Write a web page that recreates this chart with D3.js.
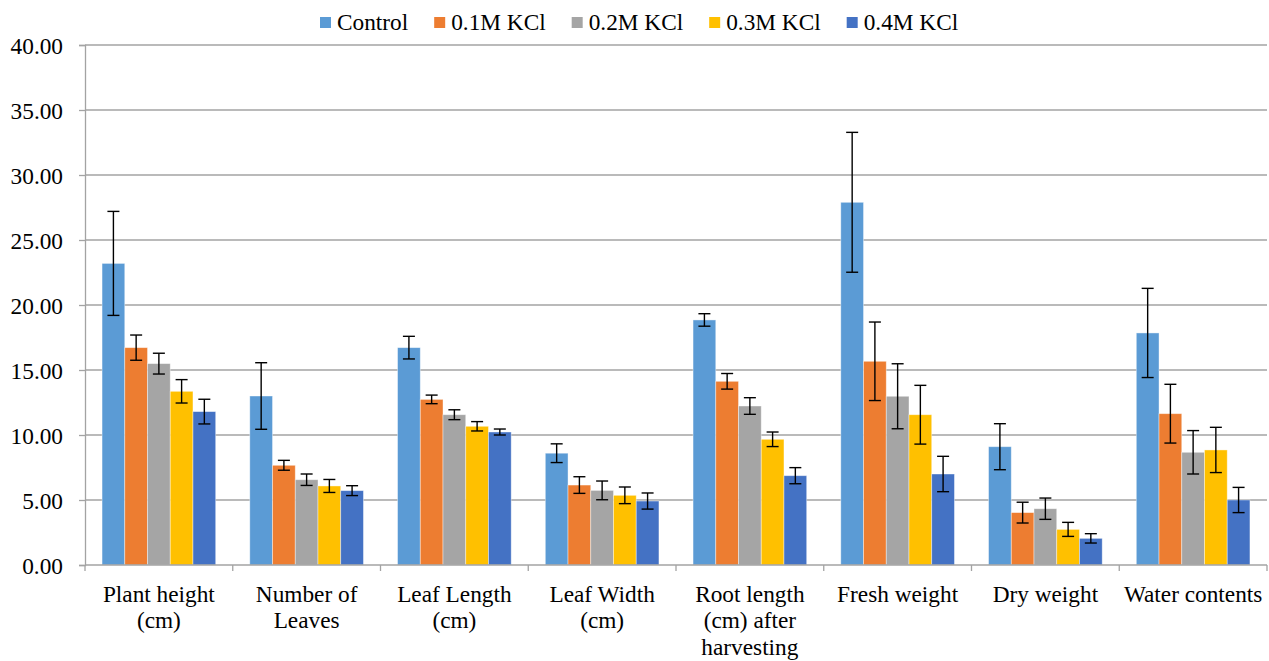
<!DOCTYPE html>
<html><head><meta charset="utf-8">
<script src="https://cdn.jsdelivr.net/npm/d3@7"></script>
<style>body{margin:0;background:#fff;} svg{display:block;} svg text{font-family:"Liberation Serif","Times New Roman",serif !important;}</style>
</head><body>
<svg id="chart" width="1269" height="661"></svg>
<script>
const categories = ["Plant height (cm)", "Number of Leaves", "Leaf Length (cm)", "Leaf Width (cm)",
  "Root length (cm) after harvesting", "Fresh weight", "Dry weight", "Water contents"];
const categoryLines = [["Plant height","(cm)"],["Number of","Leaves"],["Leaf Length","(cm)"],["Leaf Width","(cm)"],
  ["Root length","(cm) after","harvesting"],["Fresh weight"],["Dry weight"],["Water contents"]];
const seriesNames = ["Control", "0.1M KCl", "0.2M KCl", "0.3M KCl", "0.4M KCl"];
const seriesColors = ["#5B9BD5", "#ED7D31", "#A5A5A5", "#FFC000", "#4472C4"];
const control = [23.2, 13.0, 16.72, 8.6, 18.85, 27.9, 9.1, 17.85];
const kcl01 = [16.72, 7.67, 12.74, 6.15, 14.13, 15.67, 4.03, 11.64];
const kcl02 = [15.49, 6.56, 11.56, 5.74, 12.23, 12.98, 4.33, 8.67];
const kcl03 = [13.36, 6.08, 10.67, 5.36, 9.67, 11.56, 2.74, 8.85];
const kcl04 = [11.8, 5.72, 10.23, 4.92, 6.87, 7.0, 2.05, 5.0];
const errControl = [4.0, 2.56, 0.87, 0.72, 0.48, 5.38, 1.77, 3.43];
const err01 = [0.97, 0.38, 0.33, 0.64, 0.6, 3.02, 0.8, 2.26];
const err02 = [0.8, 0.44, 0.38, 0.72, 0.64, 2.5, 0.82, 1.67];
const err03 = [0.9, 0.5, 0.36, 0.64, 0.56, 2.26, 0.54, 1.74];
const err04 = [0.95, 0.38, 0.23, 0.62, 0.62, 1.36, 0.36, 0.97];
const yTicks = [0, 5, 10, 15, 20, 25, 30, 35, 40];

(function () {
const values = [control, kcl01, kcl02, kcl03, kcl04];
const errors = [errControl, err01, err02, err03, err04];

const svg = d3.select("#chart");
const font = "'Liberation Serif','Times New Roman',serif";
const fs = 23.3;
const mLeft = 85, mRight = 1267, mTop = 45, mBottom = 565;

const x0 = d3.scaleBand().domain(categories).range([mLeft, mRight]).padding(0);
const x1 = d3.scaleBand().domain(seriesNames).range([0, x0.bandwidth()]).paddingInner(0).paddingOuter(0.75);
const y = d3.scaleLinear().domain([0, 40]).range([mBottom, mTop]);

// gridlines
svg.append("g").selectAll("line").data(yTicks.filter(d => d > 0)).join("line")
  .attr("x1", mLeft).attr("x2", mRight).attr("y1", d => y(d)).attr("y2", d => y(d))
  .attr("stroke", "#a3a3a3").attr("stroke-width", 1.3);

// y axis
const yAxis = svg.append("g").attr("transform", `translate(${mLeft},0)`)
  .call(d3.axisLeft(y).tickValues(yTicks).tickFormat(d3.format(".2f")).tickSize(6).tickPadding(16));
yAxis.attr("font-family", null);
yAxis.select(".domain").attr("stroke", "#a3a3a3").attr("stroke-width", 1.3);
yAxis.selectAll(".tick line").attr("stroke", "#a3a3a3").attr("stroke-width", 1.3);
yAxis.selectAll("text").style("font-family", font).attr("font-size", fs).attr("fill", "#000").attr("dy", "0.36em");

// bars
const groups = svg.append("g").selectAll("g").data(categories).join("g")
  .attr("transform", d => `translate(${x0(d)},0)`);
groups.each(function(cat, ci) {
  const g = d3.select(this);
  seriesNames.forEach((s, si) => {
    const v = values[si][ci];
    g.append("rect").attr("x", x1(s)).attr("width", x1.bandwidth())
      .attr("y", y(v)).attr("height", y(0) - y(v)).attr("fill", seriesColors[si])
      .attr("stroke", "#ffffff").attr("stroke-opacity", 0.5).attr("stroke-width", 0.8);
  });
});
// error bars
groups.each(function(cat, ci) {
  const g = d3.select(this);
  seriesNames.forEach((s, si) => {
    const v = values[si][ci], e = errors[si][ci];
    const cx = x1(s) + x1.bandwidth() / 2;
    g.append("line").attr("x1", cx).attr("x2", cx).attr("y1", y(v + e)).attr("y2", y(v - e))
      .attr("stroke", "#000").attr("stroke-width", 1.4);
    [v + e, v - e].forEach(t => g.append("line").attr("x1", cx - 6).attr("x2", cx + 6)
      .attr("y1", y(t)).attr("y2", y(t)).attr("stroke", "#000").attr("stroke-width", 1.4));
  });
});

// x axis
const xAxisLine = svg.append("g");
xAxisLine.append("line").attr("x1", mLeft).attr("x2", mRight).attr("y1", mBottom).attr("y2", mBottom)
  .attr("stroke", "#a3a3a3").attr("stroke-width", 1.3);
const bounds = categories.map(c => x0(c)).concat([mRight]);
xAxisLine.selectAll("line.tk").data(bounds).join("line").attr("class", "tk")
  .attr("x1", d => d).attr("x2", d => d).attr("y1", mBottom).attr("y2", mBottom + 6)
  .attr("stroke", "#a3a3a3").attr("stroke-width", 1.3);
svg.append("g").selectAll("text").data(categories).join("text")
  .attr("x", d => x0(d) + x0.bandwidth() / 2).attr("y", 601.5)
  .attr("text-anchor", "middle").style("font-family", font).attr("font-size", fs).attr("fill", "#000")
  .each(function(d, i) {
    const t = d3.select(this);
    categoryLines[i].forEach((ln, li) => t.append("tspan")
      .attr("x", x0(d) + x0.bandwidth() / 2).attr("dy", li === 0 ? 0 : 26.7).text(ln));
  });

// legend
const legend = svg.append("g");
let lx = 320;
seriesNames.forEach((s, i) => {
  legend.append("rect").attr("x", lx).attr("y", 17).attr("width", 11).attr("height", 11).attr("fill", seriesColors[i]);
  const t = legend.append("text").attr("x", lx + 17).attr("y", 30).style("font-family", font)
    .attr("font-size", fs).attr("fill", "#000").text(s);
  lx += 17 + t.node().getComputedTextLength() + 26;
});
})();
</script>
</body></html>
